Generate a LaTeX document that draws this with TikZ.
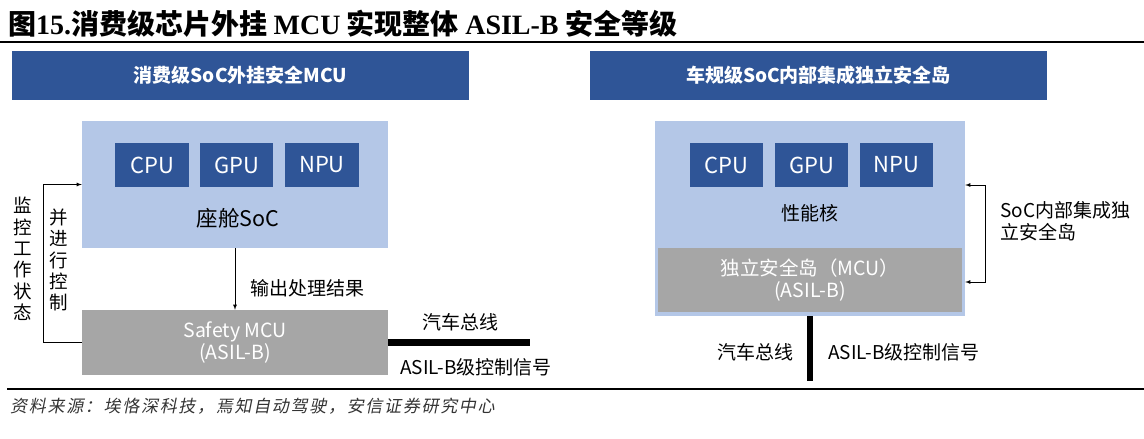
\documentclass[tikz,border=0pt]{standalone}
\usepackage{fontspec}
\setmainfont{Noto Sans CJK SC}
\newfontfamily\titlecjk{Noto Sans CJK SC}
\newfontfamily\titlelat{Liberation Serif}
\newfontfamily\srcfont[FakeSlant=0.2,LetterSpace=10]{Noto Sans CJK SC}
\usetikzlibrary{arrows}
\usetikzlibrary{positioning}
\definecolor{hdrblue}{HTML}{2F5597}
\definecolor{socblue}{HTML}{B4C7E7}
\definecolor{mcugray}{HTML}{A6A6A6}
\newcommand\fsz[2]{\fontsize{#1}{#2}\selectfont}

\begin{document}
\begin{tikzpicture}[x=1pt, y=-1pt,
    hdr/.style={fill=hdrblue, text=white, minimum width=457, minimum height=49, font=\fsz{19}{22}\bfseries},
    soc/.style={fill=socblue, inner sep=0},
    core/.style={fill=hdrblue, text=white, minimum height=44, font=\fsz{22}{26}},
    mcu/.style={fill=mcugray, text=white, align=center, font=\fsz{19.5}{22}},
    lbl/.style={font=\fsz{19}{22}, inner sep=0},
    vlbl/.style={font=\fsz{18.5}{21.3}, align=center, inner sep=0},
    flow/.style={-latex, line width=0.8},
    bus/.style={line width=6.5},
    rule/.style={line width=1.2}]
    \useasboundingbox (0,0) rectangle (1144,439);
    %% title
    \node[anchor=west, inner sep=0, font=\fsz{28}{32}\bfseries] (title) at (8,24)
        {{\titlecjk 图}{\titlelat 15.}{\titlecjk 消费级芯片外挂} {\titlelat MCU} {\titlecjk 实现整体} {\titlelat ASIL-B} {\titlecjk 安全等级}};
    \draw[rule] (0,42) -- (1144,42);
    %% headers
    \node[hdr] (lhdr) at (240.5,75) {消费级SoC外挂安全MCU};
    \node[hdr] (rhdr) at (818.5,75) {车规级SoC内部集成独立安全岛};
    %% left: SoC + external MCU
    \node[soc, minimum width=306, minimum height=127] (lsoc) at (235,184.5) {};
    \node[core, minimum width=74] (lcpu) at (152,165) {CPU};
    \node[core, minimum width=73] (lgpu) at (236.5,165) {GPU};
    \node[core, minimum width=74] (lnpu) at (322,165) {NPU};
    \node[lbl, font=\fsz{21.5}{24}] (lsocname) at (238,218) {座舱SoC};
    \node[mcu, minimum width=306, minimum height=65] (lmcu) at (235,342.5) {Safety MCU\\(ASIL-B)};
    \draw[flow] (lsoc.south) -- (lmcu.north);
    \node[lbl, anchor=west] (outlbl) at (250,288) {输出处理结果};
    %% -- feedback loop
    \draw[flow] (lmcu.west) -- ++(-38,0) |- (lsoc.west);
    \node[vlbl] (monlbl) at (23,259) {监\\控\\工\\作\\状\\态};
    \node[vlbl] (ctllbl) at (59,260) {并\\进\\行\\控\\制};
    %% -- bus
    \coordinate (lbusend) at (530,342.5);
    \draw[bus] (lmcu.east) -- (lbusend);
    \node[lbl] (lbuslbl) at (460,322) {汽车总线};
    \node[lbl, anchor=west] (lsiglbl) at (400,367) {ASIL-B级控制信号};
    %% right: SoC with safety island
    \node[soc, minimum width=310, minimum height=195] (rsoc) at (810,218.5) {};
    \node[core, minimum width=73] (rcpu) at (726.5,165) {CPU};
    \node[core, minimum width=73] (rgpu) at (811.5,165) {GPU};
    \node[core, minimum width=73] (rnpu) at (896.5,165) {NPU};
    \node[lbl] (rsocname) at (810,213) {性能核};
    \node[mcu, minimum width=304, minimum height=64] (rmcu) at (810,280) {独立安全岛（MCU）\\(ASIL-B)};
    %% -- bracket
    \coordinate (brtop) at (rsoc.east |- 0,185);
    \coordinate (brbot) at (rsoc.east |- 0,282);
    \draw[flow, latex-latex] (brtop) -- ++(20,0) |- (brbot);
    \node[lbl, anchor=west, align=left] (brlbl) at (1000,221) {SoC内部集成独\\立安全岛};
    %% -- bus
    \coordinate (rbusend) at (810,381);
    \draw[bus] (rsoc.south) -- (rbusend);
    \node[lbl] (rbuslbl) at (755,352) {汽车总线};
    \node[lbl, anchor=west] (rsiglbl) at (828,352) {ASIL-B级控制信号};
    %% source
    \draw[rule] (7,389) -- (1144,389);
    \node[anchor=west, inner sep=0, text=black!80, font=\fsz{17}{20}\srcfont] (src) at (10,406)
        {资料来源：埃恪深科技，焉知自动驾驶，安信证券研究中心};
\end{tikzpicture}
\end{document}
